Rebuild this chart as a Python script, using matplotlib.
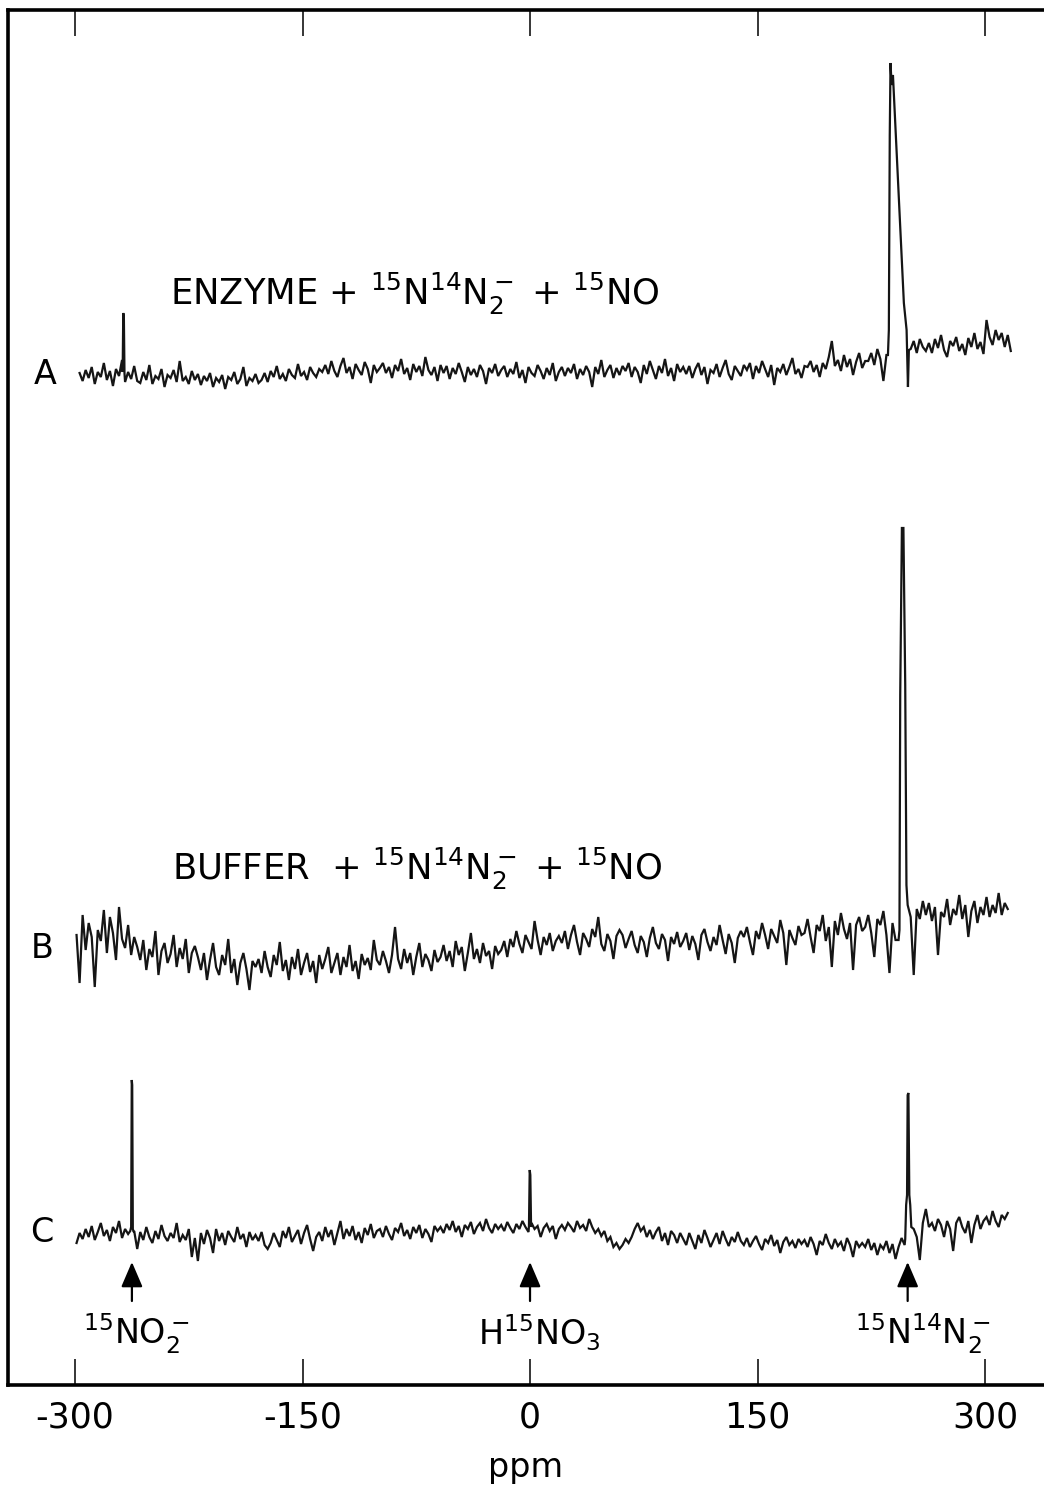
import numpy as np
import matplotlib
matplotlib.use("Agg")
import matplotlib.pyplot as plt

plt.rcParams['font.family'] = ['DejaVu Sans']
plt.rcParams['mathtext.fontset'] = 'custom'
plt.rcParams['mathtext.rm'] = 'DejaVu Sans'
plt.rcParams['mathtext.it'] = 'DejaVu Sans:italic'

# ---- chemical shift axis ----
tick_ppm = [-300, -150, 0, 150, 300]
tick_labels = ['-300', '-150', '0', '150', '300']

# ---- spectrum A: enzyme + 15N14N2- + 15NO (baseline sampled every 2 ppm) ----
a_start, a_step = -297, 2
a_vals = [
    2, -6, 5, -3, 8, -9, 3, -2, 12, -5, 4, -11, 6, -1, 15, -7, 3, -4, 9, -6,
    -8, 3, -5, 10, -9, -1, -4, 6, -12, 0, -3, 5, -7, 14, -6, -2, -9, 4, -5, 1,
    -10, -1, -6, 2, -12, -3, -7, 0, -14, -2, -5, 3, -9, -4, 8, -11, -3, -6, 1, -8,
    -5, 2, -7, 4, -2, 9, -4, 1, -6, 6, 0, -3, 11, -1, 3, -5, 8, 2, -2, 6,
    3, 10, 1, 14, 4, -2, 9, 17, 2, 8, -4, 11, 5, 0, 13, 6, -8, 10, 3, 7,
    12, 2, 8, -3, 10, 4, 16, 1, 7, -5, 11, 3, 9, -1, 18, 5, 0, 8, -6, 10,
    2, 9, -4, 7, 1, 12, 3, -7, 8, 0, 6, -2, 10, 4, -9, 7, 2, 11, -1, 5,
    9, -2, 6, 1, 13, -3, 5, -8, 8, 2, -1, 10, 4, -4, 7, 0, 12, -6, 3, 8,
    -1, 7, 2, 11, -4, 6, 0, 9, 3, -12, 8, 1, 15, -2, 5, 10, -3, 7, 0, 9,
    4, 12, -2, 8, 3, -8, 10, 1, 14, 5, -4, 9, 2, 16, -1, 7, -6, 11, 3, 8,
    1, 9, -3, 6, 12, 0, 8, -9, 5, 2, 11, -2, 7, 15, 1, -5, 9, 4, -1, 10,
    5, 12, -4, 9, 2, 14, 6, -2, 10, -10, 7, 3, 11, 0, 8, 17, 1, 6, -3, 9,
    8, 14, 3, 10, -2, 12, 6, 18, 34, 9, 15, 4, 20, 8, 16, 0, 13, 22, 7, 14,
    14, 22, 10, 26, 16, -6, 20, 0, 0, 0, 0, 0, 0, 0, 26, 34, 22, 36, 28, 24,
    32, 22, 36, 27, 40, 25, 18, 34, 29, 38, 24, 31, 20, 37, 28, 42, 26, 33, 21, 55,
    38, 30, 45, 35, 42, 28, 40, 24,
]
a_peaks = [
    ([-268.6, -268.2, -267.8, -267.4], [3, 62, 58, 2]),
    ([236.0, 236.6, 237.2, 237.7, 238.4, 239.3, 240.5, 242.0, 243.5, 245.0,
      246.5, 247.4, 248.3, 249.2, 249.8],
     [20, 45, 240, 312, 290, 300, 262, 214, 166, 118, 72, 58, 45, -12, 25]),
]

# ---- spectrum B: buffer + 15N14N2- + 15NO ----
b_start, b_step = -299, 2
b_vals = [
    10, -38, 30, -5, 22, 8, -42, 15, 4, 35, -8, 28, 12, -15, 38, 6, -3, 20, -10, 8,
    -2, -15, 5, -25, -4, -12, 14, -30, -6, 2, -18, -9, 10, -22, -3, -14, 6, -28, -8, -1,
    -12, -25, -8, -35, -15, 2, -22, -30, -10, -20, 6, -28, -14, -40, -18, -8, -24, -45, -16, -22,
    -14, -28, -6, -22, -32, -10, -20, 3, -26, -15, -35, -12, -24, -4, -30, -18, -8, -27, -16, -38,
    -10, -24, -14, -2, -28, -18, -8, -30, -12, -22, 0, -26, -16, -34, -9, -20, -13, -25, 5, -15,
    -20, -6, -16, -28, -10, 18, -14, -24, -4, -18, -8, -30, -12, 2, -22, -9, -15, -26, -5, -17,
    -12, 0, -16, -6, -22, 4, -10, -2, -26, -8, 12, -14, -4, -18, 2, -11, -6, -24, -1, -9,
    -5, 4, -12, 6, -2, 14, 1, -8, 10, 3, -4, 24, 5, -10, 8, 0, 12, -6, 4, 9,
    2, 14, -4, 10, 20, 3, -10, 12, 6, -2, 16, 8, 28, 1, -6, 11, 4, -14, 9, 15,
    10, -3, 6, 14, 0, -8, 9, 3, -12, 7, 18, 2, -4, 11, 5, -16, 8, 1, 13, -2,
    4, 12, -5, 9, 1, -15, 10, 16, 3, -6, 8, 0, 20, 5, -9, 11, 2, -18, 7, 14,
    8, 18, 3, -10, 14, 6, 22, 10, -4, 16, 9, 2, 25, 12, -20, 15, 7, 0, 19, 10,
    12, 26, 8, -8, 20, 14, 30, 4, 18, -22, 24, 10, 32, 16, 6, 22, -25, 20, 28, 14,
    18, 30, 12, -12, 26, 20, 34, 10, -28, 22, 5, 0, 0, 0, 40, 28, -30, 36, 26, 44,
    30, 42, 24, 38, -10, 33, 28, 46, 20, 36, 30, 50, 26, 40, 8, 34, 44, 22, 38, 30,
    48, 28, 40, 32, 52, 30, 42, 36,
]
b_peaks = [
    ([243.0, 243.6, 244.1, 245.2, 246.2, 247.4, 248.2, 248.8],
     [5, 15, 250, 417, 417, 260, 60, 45]),
]

# ---- spectrum C: reference mixture ----
c_start, c_step = -299, 2
c_vals = [
    -8, 2, -4, 6, -2, 9, -5, 3, 12, -1, 5, -6, 8, 2, 14, -3, 6, 1, 8, 4,
    -14, 3, -5, 8, -2, -8, 4, -4, 10, -1, -6, 2, -3, 12, -7, 0, -5, 6, -22, -3,
    -26, 2, -9, 5, -3, -18, 6, -6, 2, -10, 4, -2, -7, 8, -4, 1, -12, 3, -5, 0,
    -6, 3, -10, -14, -8, 2, -5, -12, 4, -3, 8, -7, -1, 5, -9, 2, 10, -4, -16, -2,
    3, -6, 8, -2, 5, -10, 2, 14, -4, 6, -1, 9, -5, 3, -8, 7, 0, 11, -3, 4,
    6, -2, 9, 1, -5, 7, 3, 12, -1, 5, -4, 8, 2, 10, -3, 6, 1, -7, 9, 4,
    8, 2, 11, 5, 14, 3, 9, -2, 10, 6, 13, 1, 8, 12, 4, 16, 7, 2, 11, 6,
    10, 4, 13, 7, 2, 11, 6, 14, 8, 3, 12, 6, 9, -2, 7, 11, 4, 9, -4, 6,
    10, 5, 12, 8, 3, 14, 7, 10, 4, 16, 8, 2, 6, -1, 4, -6, -2, -12, -8, -14,
    -10, -4, -8, -2, 6, 12, 4, 8, -2, 5, -4, 3, 8, -6, 2, -10, 4, 0, -8, 2,
    -4, -10, 2, -6, -14, 0, -8, 5, -3, -12, -5, 2, -9, 4, -4, -11, -2, -7, 3, -6,
    -10, -3, -12, -6, -1, -9, -15, -4, -8, 0, -11, -5, -18, -7, -2, -10, -6, -13, -4, -9,
    -5, -12, -2, -9, -20, -6, -10, 1, -8, -14, -4, -11, -7, -16, -3, -10, -22, -6, -12, -8,
    -12, -4, -15, -8, -20, -10, -14, -6, -18, -9, -24, -12, -3, -10, 0, 0, 6, -2, -25, 12,
    26, 8, 12, 4, 16, 10, -2, 14, 6, -16, 12, 18, 8, 2, 14, -8, 10, 20, 6, 14,
    18, 10, 24, 14, 8, 20, 16, 22,
]
c_peaks = [
    ([-263.6, -263.0, -262.6, -262.3, -261.9, -261.3], [4, 8, 155, 150, 6, 3]),
    ([-0.7, -0.2, 0.2, 0.7], [9, 65, 60, 8]),
    ([247.4, 248.0, 248.6, 249.0, 249.5, 250.1, 250.7, 251.4],
     [-4, 30, 40, 140, 142, 40, 30, 8]),
]

# vertical placement of each spectrum (baseline level)
offsets = {'A': 1010, 'B': 440, 'C': 150}

# assigned resonances marked under spectrum C
marker_ppm = [-262.5, 0.0, 249.0]
marker_text = [r'$^{15}$NO$_2^-$', r'H$^{15}$NO$_3$', r'$^{15}$N$^{14}$N$_2^-$']
marker_left = [-294.7, -34.3, 214.3]

titles = {
    'A': r'ENZYME + $^{15}$N$^{14}$N$_2^-$ + $^{15}$NO',
    'B': r'BUFFER  + $^{15}$N$^{14}$N$_2^-$ + $^{15}$NO',
}


def assemble(start, step, vals, peaks):
    ppm = start + step * np.arange(len(vals))
    y = np.asarray(vals, dtype=float)
    keep = np.ones(len(ppm), dtype=bool)
    for px, _ in peaks:
        keep &= ~((ppm >= min(px)) & (ppm <= max(px)))
    xs = [ppm[keep]] + [np.asarray(px, float) for px, _ in peaks]
    ys = [y[keep]] + [np.asarray(py, float) for _, py in peaks]
    x = np.concatenate(xs)
    yy = np.concatenate(ys)
    order = np.argsort(x)
    return x[order], yy[order]


fig = plt.figure(figsize=(10.44, 14.85), dpi=100)
ax = fig.add_axes([8 / 1044, 100 / 1485, 1 - 8 / 1044, 1375 / 1485])
ax.set_xlim(-344.2, 338.9)
ax.set_ylim(0, 1375)

spectra = {
    'A': (a_start, a_step, a_vals, a_peaks),
    'B': (b_start, b_step, b_vals, b_peaks),
    'C': (c_start, c_step, c_vals, c_peaks),
}
for name, (s, st, v, pk) in spectra.items():
    x, y = assemble(s, st, v, pk)
    ax.plot(x, y + offsets[name], color='#151515', lw=1.6, solid_joinstyle='miter')

# trace letters
for name, (lx, ly) in {'A': (-319.8, 1010), 'B': (-321.8, 437), 'C': (-321.8, 153)}.items():
    ax.text(lx, ly, name, ha='center', va='center', fontsize=24)

# sample descriptions
ax.text(-237.4, 1080, titles['A'], ha='left', va='baseline', fontsize=25.5)
ax.text(-236.0, 505, titles['B'], ha='left', va='baseline', fontsize=25.5)

# arrows and assignments
for p, t, lx in zip(marker_ppm, marker_text, marker_left):
    ax.annotate('', xy=(p, 123), xytext=(p, 84),
                arrowprops=dict(arrowstyle='-|>,head_length=0.7,head_width=0.3',
                                lw=1.6, color='k', mutation_scale=22,
                                shrinkA=0, shrinkB=0))
    ax.text(lx, 40, t, ha='left', va='baseline', fontsize=24)

# frame and ticks
for side in ('left', 'top', 'bottom'):
    ax.spines[side].set_linewidth(2.6)
ax.spines['right'].set_visible(False)
ax.set_yticks([])
ax.set_xticks(tick_ppm)
ax.set_xticklabels(tick_labels)
ax.tick_params(axis='x', direction='in', top=True, bottom=True,
               length=19, width=1.1, labelsize=25, pad=11)
ax.set_xlabel('ppm', fontsize=24, labelpad=12)

fig.savefig('out.png', dpi=100)
